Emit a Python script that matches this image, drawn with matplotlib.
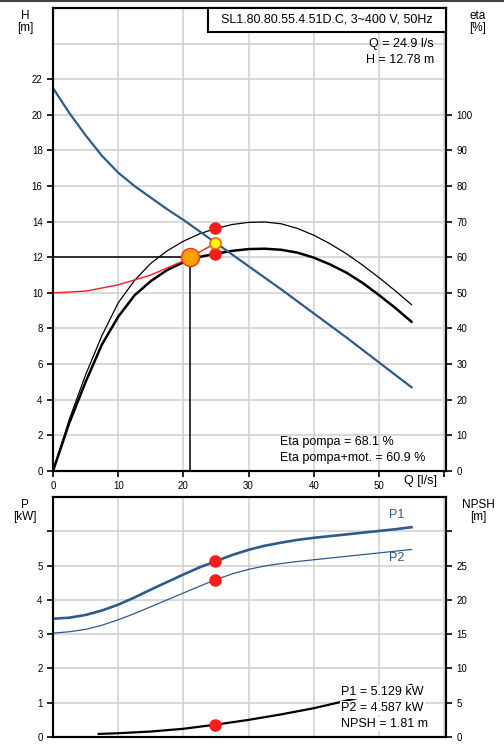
import numpy as np
import matplotlib.pyplot as plt
from matplotlib.patches import Rectangle
from matplotlib.lines import Line2D

plt.rcParams['font.family'] = ['Liberation Sans', 'DejaVu Sans']
plt.rcParams['font.size'] = 7

# pump curves
q_h = [0, 2.5, 5, 7.5, 10, 12.5, 15, 17.5, 20, 22.5, 25, 30, 35, 40, 45, 50, 55]
h_curve = [21.5, 20.1, 18.85, 17.7, 16.75, 16.0, 15.35, 14.7, 14.1, 13.45, 12.8,
           11.5, 10.2, 8.85, 7.5, 6.1, 4.7]

q_eta = [0, 2.5, 5, 7.5, 10, 12.5, 15, 17.5, 20, 22.5, 25, 27.5, 30, 32.5,
         35, 37.5, 40, 42.5, 45, 47.5, 50, 52.5, 55]
eta_pump = [0, 14.5, 27, 38, 47.2, 53.5, 58.3, 61.8, 64.5, 66.6, 68.1, 69.2, 69.8, 69.9,
            69.4, 68.1, 66.2, 63.8, 61.0, 57.8, 54.3, 50.6, 46.7]
eta_total = [0, 13.5, 25, 35.5, 43.3, 49.3, 53.3, 56.4, 58.6, 60.1, 61.0, 61.8, 62.3, 62.4,
             62.1, 61.3, 59.9, 58.0, 55.7, 52.8, 49.4, 45.8, 41.9]

q_sys = [0, 5, 10, 15, 20, 24.9]
h_sys = [10.0, 10.1, 10.45, 11.0, 11.8, 12.78]

q_p = [0, 2.5, 5, 7.5, 10, 12.5, 15, 17.5, 20, 22.5, 25, 27.5, 30, 32.5,
       35, 37.5, 40, 42.5, 45, 47.5, 50, 52.5, 55]
p1 = [3.45, 3.48, 3.56, 3.69, 3.86, 4.07, 4.3, 4.52, 4.74, 4.95, 5.13, 5.31, 5.46, 5.58,
      5.67, 5.75, 5.81, 5.86, 5.91, 5.96, 6.01, 6.06, 6.12]
p2 = [3.03, 3.07, 3.14, 3.26, 3.42, 3.6, 3.8, 4.0, 4.2, 4.4, 4.59, 4.76, 4.89, 4.99,
      5.06, 5.12, 5.17, 5.22, 5.27, 5.32, 5.37, 5.42, 5.47]

q_npsh = [7, 10, 15, 20, 25, 30, 35, 40, 45, 50, 55]
npsh = [0.45, 0.55, 0.8, 1.2, 1.81, 2.5, 3.3, 4.2, 5.3, 6.4, 7.6]

duty_q, duty_h = 21.0, 12.0
op_q, op_h = 24.9, 12.78
op_eta_p, op_eta_pm = 68.1, 60.9
op_p1, op_p2, op_npsh = 5.129, 4.587, 1.81

blue = '#2d5b8e'
grid_c = '#cfcfcf'
red = '#ff1a1a'
fs = 9

fig = plt.figure(figsize=(5.04, 7.49), dpi=100)
fig.add_artist(Line2D([0, 1], [0.999, 0.999], color='#404040', lw=1.5))

# ---------- H / eta chart
ax_e = fig.add_axes([0.1052, 0.3712, 0.7798, 0.6182])
ax_h = ax_e.twinx()
ax_h.set_zorder(ax_e.get_zorder() + 1)
ax_h.patch.set_visible(False)

ax_e.set_xlim(0, 60.3)
ax_e.set_ylim(0, 130)
ax_h.set_ylim(0, 26)

ax_e.set_xticks(np.arange(0, 61, 10))
ax_e.set_xticklabels(['0', '10', '20', '30', '40', '50', ''])
ax_e.set_yticks(np.arange(0, 101, 10))
ax_e.set_yticks([110, 120], minor=True)
ax_e.yaxis.tick_right()
ax_h.yaxis.tick_left()
ax_h.set_yticks(np.arange(0, 23, 2))
ax_e.grid(True, which='both', color=grid_c, lw=1.1)
ax_e.tick_params(which='minor', length=0)
ax_e.tick_params(axis='both', direction='out', length=4, width=1.2)
ax_h.tick_params(axis='y', direction='out', length=4, width=1.2)

ax_e.plot(q_eta, eta_pump, color='black', lw=0.9)
ax_e.plot(q_eta, eta_total, color='black', lw=1.8)
ax_e.plot([op_q, op_q], [op_eta_p, op_eta_pm], 'o', color=red, ms=8, mec=red)

ax_h.plot(q_h, h_curve, color=blue, lw=1.6)
ax_h.plot(q_sys, h_sys, color=red, lw=1.0)
ax_h.plot([0, duty_q], [duty_h, duty_h], color='black', lw=1.1)
ax_h.plot([duty_q, duty_q], [0, duty_h], color='black', lw=1.1)
ax_h.plot(duty_q, duty_h, 'o', color='#ffa000', mec='#ff3010', mew=1.0, ms=13)
ax_h.plot(op_q, op_h, 'o', color='#ffff00', mec='#ff6010', mew=1.2, ms=8)

for ax in (ax_e, ax_h):
    for s in ax.spines.values():
        s.set_linewidth(1.5)

ax_h.add_patch(Rectangle((0.394, 0.948), 0.606, 0.052, transform=ax_h.transAxes,
                         facecolor='white', edgecolor='black', lw=1.5,
                         clip_on=False, zorder=5))
ax_h.text(0.697, 0.974, 'SL1.80.80.55.4.51D.C, 3~400 V, 50Hz', transform=ax_h.transAxes,
          ha='center', va='center', zorder=6, fontsize=fs)
ax_h.text(0.969, 0.922, 'Q = %.1f l/s' % op_q, transform=ax_h.transAxes,
          ha='right', va='center', fontsize=fs)
ax_h.text(0.969, 0.888, 'H = %.2f m' % op_h, transform=ax_h.transAxes,
          ha='right', va='center', fontsize=fs)
ax_h.text(0.578, 0.0626, 'Eta pompa = %.1f %%' % op_eta_p, transform=ax_h.transAxes,
          va='center', fontsize=fs)
ax_h.text(0.578, 0.028, 'Eta pompa+mot. = %.1f %%' % op_eta_pm, transform=ax_h.transAxes,
          va='center', fontsize=fs)
fig.text(437 / 504, 1 - 481 / 749, 'Q [l/s]', ha='right', va='center', fontsize=fs)

fig.text(25 / 504, 1 - 10 / 749, 'H\n[m]', ha='center', va='top', linespacing=0.95, fontsize=8.5)
fig.text(478 / 504, 1 - 10 / 749, 'eta\n[%]', ha='center', va='top', linespacing=0.95, fontsize=8.5)

# ---------- P / NPSH chart
ax_p = fig.add_axes([0.1052, 0.0160, 0.7798, 0.3204])
ax_n = ax_p.twinx()

ax_p.set_xlim(0, 60.3)
ax_p.set_ylim(0, 7)
ax_n.set_ylim(0, 35)
ax_p.set_xticks(np.arange(0, 61, 10))
ax_p.set_xticklabels([])
ax_p.set_yticks(np.arange(0, 7, 1))
ax_p.set_yticklabels(['0', '1', '2', '3', '4', '5', ''])
ax_n.set_yticks(np.arange(0, 31, 5))
ax_n.set_yticklabels(['0', '5', '10', '15', '20', '25', ''])
ax_p.grid(True, color=grid_c, lw=1.1)
ax_p.tick_params(axis='x', length=0)
ax_p.tick_params(axis='y', direction='out', length=4, width=1.2)
ax_n.tick_params(axis='y', direction='out', length=4, width=1.2)

ax_p.plot(q_p, p1, color=blue, lw=1.9)
ax_p.plot(q_p, p2, color=blue, lw=0.9)
ax_p.plot([op_q, op_q], [op_p1, op_p2], 'o', color=red, ms=8, mec=red)
ax_p.text(52.7, 6.47, 'P1', color=blue, ha='center', va='center', fontsize=fs)
ax_p.text(52.7, 5.22, 'P2', color=blue, ha='center', va='center', fontsize=fs)

ax_n.plot(q_npsh, npsh, color='black', lw=1.6)
ax_n.plot(op_q, op_npsh, 'o', color=red, ms=8, mec=red)
bb = dict(facecolor='white', edgecolor='none', pad=1.0)
ax_n.text(0.733, 0.1875, 'P1 = %.3f kW' % op_p1, transform=ax_n.transAxes, va='center',
          bbox=bb, zorder=5, fontsize=fs)
ax_n.text(0.733, 0.121, 'P2 = %.3f kW' % op_p2, transform=ax_n.transAxes, va='center',
          bbox=bb, zorder=5, fontsize=fs)
ax_n.text(0.733, 0.054, 'NPSH = %.2f m' % op_npsh, transform=ax_n.transAxes, va='center',
          bbox=bb, zorder=5, fontsize=fs)

for ax in (ax_p, ax_n):
    for s in ax.spines.values():
        s.set_linewidth(1.5)

fig.text(25 / 504, 1 - 499 / 749, 'P\n[kW]', ha='center', va='top', linespacing=0.95, fontsize=8.5)
fig.text(478 / 504, 1 - 499 / 749, 'NPSH\n[m]', ha='center', va='top', linespacing=0.95, fontsize=8.5)

fig.savefig('out.png', dpi=100)
